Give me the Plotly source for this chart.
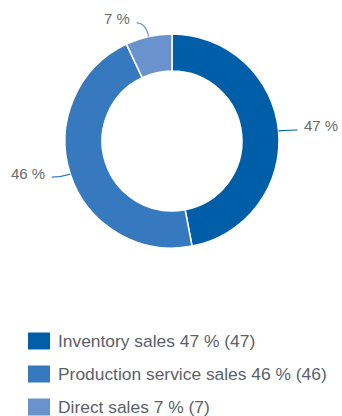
import math
import plotly.graph_objects as go

# Sales split by channel (percent of total)
categories = ["Inventory sales", "Production service sales", "Direct sales"]
values = [47, 46, 7]
colors = ["#005da8", "#3679bf", "#6a93cd"]

W, H = 342, 416
CX, CY, R = 172, 141, 107      # donut centre and outer radius in px
HOLE = 0.654
FONT = "Liberation Sans, Arial, sans-serif"


def px(x):
    return x / W


def py(y):
    return 1 - y / H


fig = go.Figure()
fig.add_trace(go.Pie(
    labels=categories,
    values=values,
    hole=HOLE,
    sort=False,
    direction="clockwise",
    rotation=0,
    textinfo="none",
    hoverinfo="label+percent",
    marker=dict(colors=colors, line=dict(color="white", width=1.5)),
    domain=dict(x=[px(CX - R), px(CX + R)], y=[py(CY + R), py(CY - R)]),
    showlegend=False,
))

shapes = []
annotations = []
total = sum(values)
cum = 0
for name, v, c in zip(categories, values, colors):
    mid = (cum + v / 2) / total * 2 * math.pi
    cum += v
    sx, sy = math.sin(mid), -math.cos(mid)
    x0, y0 = CX + R * sx, CY + R * sy
    d = 14 if abs(sy) > 0.8 else 10
    x1, y1 = CX + (R + d) * sx, CY + (R + d) * sy
    side = 1 if sx >= 0 else -1
    x2, y2 = x1 + side * 9, y1
    path = f"M {px(x0)},{py(y0)} Q {px(x1)},{py(y1)} {px(x2)},{py(y2)}"
    shapes.append(dict(type="path", path=path, xref="paper", yref="paper",
                       line=dict(color=c, width=1.2)))
    annotations.append(dict(
        x=px(x2 + side * 5), y=py(y2 - 4), xref="paper", yref="paper",
        text=f"{v} %", showarrow=False,
        xanchor="left" if side > 0 else "right", yanchor="middle",
        font=dict(family=FONT, size=15, color="#6b6b6b"),
    ))

# Legend rows below the donut
LEG_X, LEG_Y0, LEG_DY = 28, 341, 33
for i, (name, v, c) in enumerate(zip(categories, values, colors)):
    yc = LEG_Y0 + i * LEG_DY
    shapes.append(dict(type="rect", xref="paper", yref="paper",
                       x0=px(LEG_X), x1=px(LEG_X + 22),
                       y0=py(yc + 8.5), y1=py(yc - 8.5),
                       fillcolor=c, line=dict(width=0)))
    annotations.append(dict(
        x=px(LEG_X + 28), y=py(yc), xref="paper", yref="paper",
        text=f"{name} {v} % ({v})", showarrow=False,
        xanchor="left", yanchor="middle",
        font=dict(family=FONT, size=17.4, color="#5a6169"),
    ))

fig.update_layout(
    width=W, height=H,
    margin=dict(l=0, r=0, t=0, b=0),
    paper_bgcolor="white",
    plot_bgcolor="white",
    shapes=shapes,
    annotations=annotations,
    showlegend=False,
)

fig.write_html("out.html")
